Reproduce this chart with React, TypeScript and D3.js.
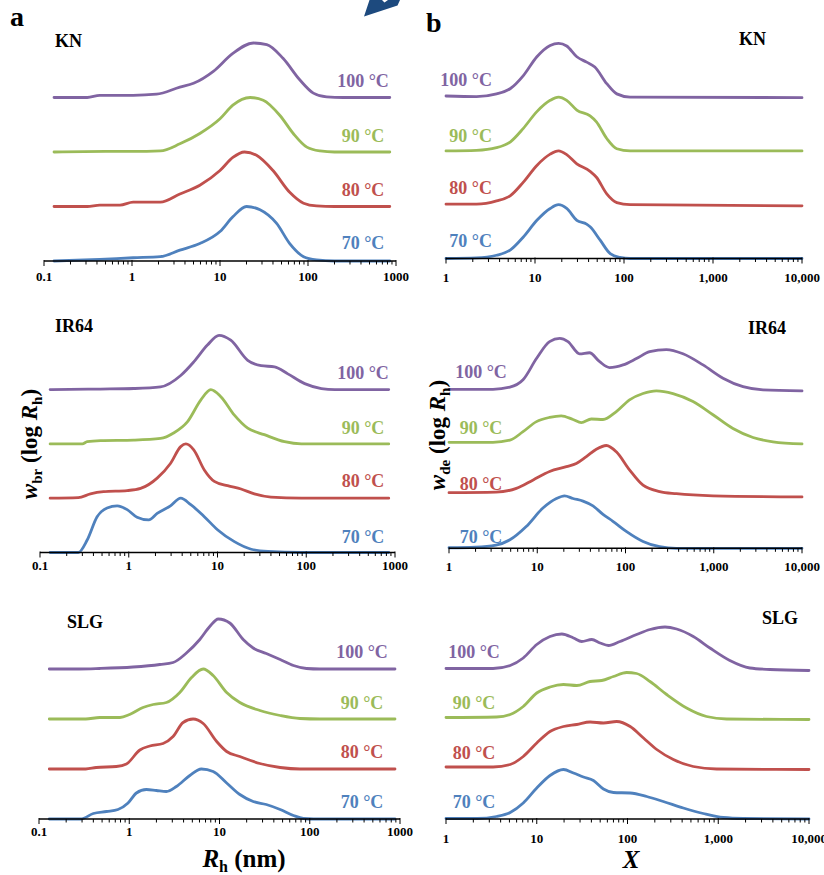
import React, { useEffect, useRef } from 'react';
import * as d3 from 'd3';

type Pt = [number, number];

const temps = ['70 °C', '80 °C', '90 °C', '100 °C'];
const colors = ['#4f81bd', '#c0504d', '#9bbb59', '#8064a2'];
const samples = ['KN', 'IR64', 'SLG'];
const rhTicks = [0.1, 1, 10, 100, 1000];
const xTicks = [1, 10, 100, 1000, 10000];

// (a) w_br(log Rh) against Rh (nm), each curve scaled to its peak
const aKN70: Pt[] = [[0.13, 0], [0.43, 0.03], [1.03, 0.06], [2.1, 0.08], [3.5, 0.2], [5.9, 0.32], [10, 0.54], [14, 0.81], [20, 1.0], [28.5, 0.94], [44, 0.69], [62, 0.32], [89, 0.08], [125, 0.02], [200, 0], [850, 0]];
const aKN80: Pt[] = [[0.13, 0], [0.31, 0], [0.43, 0.025], [0.73, 0.025], [1.03, 0.08], [2.1, 0.08], [3.5, 0.23], [5.9, 0.39], [10, 0.66], [14, 0.9], [19, 1.0], [26, 0.94], [40, 0.66], [62, 0.26], [89, 0.06], [125, 0.01], [200, 0], [850, 0]];
const aKN90: Pt[] = [[0.13, 0], [0.5, 0.01], [1.03, 0.01], [2.1, 0.02], [3.5, 0.15], [5.9, 0.34], [10, 0.61], [14, 0.86], [22, 1.0], [31, 0.95], [48, 0.67], [68, 0.34], [97, 0.09], [137, 0.02], [200, 0], [850, 0]];
const aKN100: Pt[] = [[0.13, 0], [0.31, 0], [0.43, 0.04], [1.03, 0.04], [1.9, 0.06], [3.5, 0.19], [5.0, 0.26], [8.4, 0.48], [14, 0.81], [24, 1.0], [34, 0.97], [52, 0.72], [81, 0.32], [115, 0.08], [163, 0.01], [250, 0], [850, 0]];

const aIR70: Pt[] = [[0.13, 0], [0.27, 0], [0.34, 0.23], [0.44, 0.66], [0.57, 0.82], [0.74, 0.86], [0.96, 0.79], [1.24, 0.65], [1.68, 0.6], [2.09, 0.72], [2.95, 0.86], [3.85, 1.0], [5.0, 0.88], [7.1, 0.66], [10, 0.42], [15.5, 0.2], [24, 0.06], [37, 0.02], [88, 0], [850, 0]];
const aIR80: Pt[] = [[0.13, 0], [0.27, 0.01], [0.37, 0.08], [0.52, 0.12], [0.96, 0.14], [1.36, 0.18], [2.09, 0.37], [2.95, 0.64], [3.85, 0.95], [4.4, 1.0], [5.4, 0.89], [7.1, 0.52], [9.2, 0.31], [13, 0.23], [18.4, 0.17], [26, 0.08], [40, 0.02], [88, 0], [850, 0]];
const aIR90: Pt[] = [[0.13, 0], [0.3, 0], [0.34, 0.04], [0.48, 0.06], [1.14, 0.07], [2.28, 0.1], [3.2, 0.2], [4.6, 0.41], [6.5, 0.81], [8.4, 1.0], [10.9, 0.87], [15.5, 0.53], [21.9, 0.29], [33.7, 0.17], [57, 0.04], [88, 0], [850, 0]];
const aIR100: Pt[] = [[0.13, 0], [0.48, 0.01], [1.14, 0.02], [2.28, 0.05], [3.85, 0.26], [5.4, 0.51], [7.7, 0.82], [10.4, 1.0], [14.1, 0.91], [21.9, 0.54], [31, 0.44], [43.9, 0.42], [62, 0.29], [96, 0.11], [148, 0.02], [210, 0], [850, 0]];

const aSLG70: Pt[] = [[0.13, 0], [0.29, 0], [0.4, 0.11], [0.56, 0.15], [0.75, 0.19], [0.97, 0.32], [1.2, 0.52], [1.55, 0.59], [2.0, 0.57], [2.58, 0.55], [3.33, 0.65], [4.69, 0.87], [6.3, 1.0], [8.5, 0.95], [12, 0.72], [16.8, 0.49], [23.6, 0.35], [33, 0.29], [47, 0.19], [66, 0.07], [85, 0.01], [110, 0], [880, 0]];
const aSLG80: Pt[] = [[0.13, 0], [0.33, 0], [0.43, 0.03], [0.72, 0.05], [0.93, 0.1], [1.31, 0.38], [1.69, 0.46], [2.37, 0.51], [3.06, 0.65], [3.95, 0.93], [5.1, 1.0], [6.6, 0.91], [9.3, 0.55], [12, 0.35], [16.8, 0.25], [28, 0.11], [47, 0.03], [78, 0], [880, 0]];
const aSLG90: Pt[] = [[0.13, 0], [0.33, 0], [0.47, 0.03], [0.79, 0.03], [1.01, 0.09], [1.42, 0.23], [1.84, 0.29], [2.58, 0.33], [3.63, 0.53], [4.9, 0.83], [6.6, 1.0], [8.5, 0.87], [12, 0.53], [16.8, 0.33], [28, 0.17], [47, 0.07], [78, 0.01], [129, 0], [880, 0]];
const aSLG100: Pt[] = [[0.13, 0], [0.28, 0], [0.47, 0.01], [1.1, 0.04], [2.18, 0.09], [3.06, 0.13], [4.3, 0.32], [6.05, 0.59], [7.8, 0.85], [9.7, 1.0], [13, 0.92], [18.3, 0.59], [23.6, 0.42], [33, 0.31], [47, 0.19], [66, 0.07], [92, 0.01], [129, 0], [880, 0]];

// (b) w_de(log Rh) against X
const bKN70: Pt[] = [[1, 0], [2.2, 0.01], [3.7, 0.06], [5.3, 0.16], [7.4, 0.4], [10.5, 0.71], [14.8, 0.93], [18.4, 1.0], [22.7, 0.93], [29.5, 0.71], [38, 0.64], [41.6, 0.59], [54, 0.34], [70, 0.09], [90, 0.02], [117, 0], [10000, 0]];
const bKN80: Pt[] = [[1, 0.01], [2.2, 0.01], [3.7, 0.07], [5.3, 0.17], [7.4, 0.42], [10.5, 0.73], [14.8, 0.94], [18.4, 1.0], [22.7, 0.93], [29.5, 0.76], [41.6, 0.62], [49, 0.51], [64, 0.2], [83, 0.04], [117, 0], [10000, -0.02]];
const bKN90: Pt[] = [[1, 0], [2.2, 0.01], [3.7, 0.06], [5.3, 0.17], [7.4, 0.42], [10.5, 0.73], [14.8, 0.94], [18.4, 1.0], [22.7, 0.94], [29.5, 0.76], [41.6, 0.65], [49, 0.54], [64, 0.23], [83, 0.04], [117, 0], [10000, 0]];
const bKN100: Pt[] = [[1, 0.02], [2.2, 0.01], [3.7, 0.06], [5.3, 0.16], [7.4, 0.4], [10.5, 0.75], [14.8, 0.96], [18.4, 1.0], [22.7, 0.95], [29.5, 0.75], [38, 0.65], [47, 0.56], [64, 0.25], [83, 0.06], [117, 0], [10000, -0.01]];

const bIR70: Pt[] = [[1, 0.01], [2.0, 0.02], [3.4, 0.06], [4.9, 0.16], [7.5, 0.41], [11.6, 0.76], [16.5, 0.94], [20.4, 0.99], [25.4, 0.94], [33, 0.89], [42.8, 0.8], [55.6, 0.64], [72, 0.51], [102, 0.32], [158, 0.13], [244, 0.03], [377, 0], [10000, 0]];
const bIR80: Pt[] = [[1, 0.05], [3.4, 0.06], [5.8, 0.13], [9.0, 0.29], [13.8, 0.45], [21.4, 0.54], [27.7, 0.6], [36, 0.73], [46.7, 0.87], [60.7, 0.94], [78.7, 0.82], [111, 0.48], [158, 0.19], [244, 0.07], [377, 0.03], [980, -0.01], [10000, -0.03]];
const bIR90: Pt[] = [[1, 0], [3.15, 0], [4.9, 0.04], [6.9, 0.2], [9.8, 0.39], [13.8, 0.47], [18.7, 0.5], [25.4, 0.43], [31.6, 0.37], [41, 0.44], [55.6, 0.43], [78.7, 0.58], [111, 0.8], [158, 0.92], [224, 0.97], [345, 0.92], [582, 0.77], [980, 0.52], [1652, 0.26], [2786, 0.09], [4693, 0.01], [10000, -0.03]];
const bIR100: Pt[] = [[1, 0], [3.15, 0], [4.9, 0.04], [6.9, 0.18], [9.8, 0.58], [13.8, 0.9], [18, 0.96], [22.3, 0.9], [30.2, 0.67], [39, 0.69], [51, 0.52], [66, 0.41], [93.7, 0.46], [133, 0.58], [188, 0.71], [290, 0.75], [448, 0.67], [756, 0.46], [1273, 0.21], [2145, 0.05], [3615, -0.01], [10000, -0.03]];

const bSLG70: Pt[] = [[1, 0.01], [2.2, 0.01], [3.6, 0.05], [5.1, 0.13], [7.1, 0.32], [10, 0.62], [14, 0.87], [19.7, 0.99], [25.4, 0.92], [32.7, 0.84], [42.1, 0.77], [54.3, 0.6], [70, 0.53], [107, 0.52], [163, 0.45], [248, 0.35], [412, 0.22], [684, 0.11], [1135, 0.03], [1882, 0.01], [10000, 0]];
const bSLG80: Pt[] = [[1, 0.04], [3.3, 0.04], [5.1, 0.09], [7.1, 0.25], [10, 0.52], [14, 0.75], [19.7, 0.85], [27.6, 0.89], [38.7, 0.94], [54.3, 0.92], [76, 0.95], [107, 0.85], [150, 0.62], [210, 0.39], [320, 0.19], [531, 0.05], [958, 0], [10000, -0.01]];
const bSLG90: Pt[] = [[1, 0.03], [3.6, 0.04], [5.1, 0.09], [7.1, 0.25], [10, 0.52], [14, 0.64], [19.7, 0.69], [27.6, 0.67], [38.7, 0.75], [52, 0.77], [70, 0.85], [98, 0.93], [126, 0.91], [177, 0.75], [270, 0.49], [448, 0.22], [743, 0.05], [1234, 0], [10000, -0.01]];
const bSLG100: Pt[] = [[1, 0.01], [3.3, 0.01], [5.1, 0.07], [7.1, 0.22], [10, 0.49], [14, 0.65], [18.9, 0.7], [25.4, 0.62], [31.3, 0.55], [40.4, 0.59], [49.9, 0.52], [61.6, 0.47], [82.7, 0.55], [126, 0.69], [177, 0.79], [259, 0.84], [348, 0.8], [531, 0.65], [809, 0.42], [1342, 0.17], [2230, 0.02], [3700, -0.01], [10000, -0.03]];

const seriesA = [[aKN70, aKN80, aKN90, aKN100], [aIR70, aIR80, aIR90, aIR100], [aSLG70, aSLG80, aSLG90, aSLG100]];
const seriesB = [[bKN70, bKN80, bKN90, bKN100], [bIR70, bIR80, bIR90, bIR100], [bSLG70, bSLG80, bSLG90, bSLG100]];

// panel geometry in pixels
const layout = [
    { x0: 44, x1: 396, axisY: 261, unit: 54.5, tickDy: 20, labelX: 363, anchor: 'middle', labelDy: [12, 11, 10, 11], nameX: 55, nameY: 47 },
    { x0: 40, x1: 395, axisY: 552.5, unit: 54.3, tickDy: 17.5, labelX: 363, anchor: 'middle', labelDy: [10, 11, 10, 11], nameX: 55, nameY: 332 },
    { x0: 39, x1: 400, axisY: 819, unit: 50, tickDy: 16.5, labelX: 362, anchor: 'middle', labelDy: [11, 11, 10, 11], nameX: 67, nameY: 628 },
    { x0: 446, x1: 802, axisY: 258.5, unit: 53.8, tickDy: 23, labelX: 492, anchor: 'end', labelDy: [12, 11, 9, 11], nameX: 739, nameY: 45 },
    { x0: 449, x1: 802, axisY: 548.3, unit: 53, tickDy: 23, labelX: 481, anchor: 'middle', labelDy: [5, 5, 8, 11], nameX: 748, nameY: 334 },
    { x0: 446, x1: 809, axisY: 819, unit: 50, tickDy: 24, labelX: 474, anchor: 'middle', labelDy: [11, 10, 10, 11], nameX: 762, nameY: 624 },
];

const serif = "'Liberation Serif', 'Times New Roman', serif";

const App = () => {
    const ref = useRef<SVGSVGElement>(null);

    useEffect(() => {
        if (!ref.current) return;
        const svg = d3.select(ref.current);
        svg.selectAll('*').remove();
        const root = svg.append('g').attr('font-family', serif).attr('font-weight', 'bold');

        const all = [...seriesA, ...seriesB];
        all.forEach((group, i) => {
            const L = layout[i];
            const isA = i < 3;
            const ticks = isA ? rhTicks : xTicks;
            const x = d3.scaleLog().domain([ticks[0], ticks[ticks.length - 1]]).range([L.x0, L.x1]);
            const y = d3.scaleLinear().domain([0, 4.2]).range([L.axisY, L.axisY - 4.2 * L.unit]);
            const g = root.append('g');

            group.forEach((pts, k) => {
                const line = d3.line<Pt>()
                    .x(d => x(d[0]))
                    .y(d => y(d[1] + k))
                    .curve(d3.curveMonotoneX);
                g.append('path')
                    .datum(pts)
                    .attr('fill', 'none')
                    .attr('stroke', colors[k])
                    .attr('stroke-width', 2.8)
                    .attr('stroke-linejoin', 'round')
                    .attr('stroke-linecap', 'round')
                    .attr('d', line);

                g.append('text')
                    .attr('x', L.labelX)
                    .attr('y', y(k) - L.labelDy[k])
                    .attr('text-anchor', L.anchor)
                    .attr('font-size', 18)
                    .attr('fill', colors[k])
                    .text(temps[k]);
            });

            // axis
            g.append('line')
                .attr('x1', L.x0).attr('x2', L.x1)
                .attr('y1', L.axisY).attr('y2', L.axisY)
                .attr('stroke', '#000').attr('stroke-width', 1.5);
            const minor: number[] = [];
            for (let e = Math.log10(ticks[0]); e < Math.log10(ticks[ticks.length - 1]); e++) {
                for (let m = 1; m < 10; m++) minor.push(m * Math.pow(10, e));
            }
            minor.push(ticks[ticks.length - 1]);
            minor.forEach(v => {
                const major = ticks.some(t => Math.abs(t - v) < 1e-9);
                g.append('line')
                    .attr('x1', x(v)).attr('x2', x(v))
                    .attr('y1', L.axisY - (major ? 1 : 0)).attr('y2', L.axisY + (major ? 5 : 3.5))
                    .attr('stroke', '#000').attr('stroke-width', 1);
            });
            const fmt = isA ? (v: number) => String(v) : d3.format(',');
            ticks.forEach(t => {
                g.append('text')
                    .attr('x', x(t))
                    .attr('y', L.axisY + L.tickDy)
                    .attr('text-anchor', 'middle')
                    .attr('font-size', 13)
                    .attr('fill', '#000')
                    .text(fmt(t));
            });

            g.append('text')
                .attr('x', L.nameX)
                .attr('y', L.nameY)
                .attr('font-size', 18)
                .attr('fill', '#000')
                .text(samples[i % 3]);
        });

        // panel letters
        root.append('text').attr('x', 10).attr('y', 26).attr('font-size', 28).text('a');
        root.append('text').attr('x', 426).attr('y', 32).attr('font-size', 28).text('b');

        // y titles
        const yTitle = (cx: number, cy: number, sub: string) => {
            const t = root.append('text')
                .attr('transform', `translate(${cx},${cy}) rotate(-90)`)
                .attr('text-anchor', 'middle')
                .attr('font-size', 23);
            t.append('tspan').attr('font-style', 'italic').text('w');
            t.append('tspan').attr('font-size', 15).attr('dy', 5).text(sub);
            t.append('tspan').attr('dy', -5).text(' (log ');
            t.append('tspan').attr('font-style', 'italic').text('R');
            t.append('tspan').attr('font-size', 15).attr('dy', 5).text('h');
            t.append('tspan').attr('dy', -5).text(')');
        };
        yTitle(37, 444, 'br');
        yTitle(445, 435, 'de');

        // x titles
        const xt = root.append('text')
            .attr('x', 244).attr('y', 867)
            .attr('text-anchor', 'middle')
            .attr('font-size', 25);
        xt.append('tspan').attr('font-style', 'italic').text('R');
        xt.append('tspan').attr('font-size', 16).attr('dy', 5).text('h');
        xt.append('tspan').attr('dy', -5).text(' (nm)');

        root.append('text')
            .attr('x', 631).attr('y', 868)
            .attr('text-anchor', 'middle')
            .attr('font-size', 25)
            .attr('font-style', 'italic')
            .text('X');

        // cut-off arrow at top edge
        const arrow: Pt[] = [[364, 16.5], [369.5, 0], [382, 0], [384.5, 2.5], [388, 0], [400, 0], [397.5, 5.5]];
        root.append('path')
            .attr('d', d3.line<Pt>()(arrow) + 'Z')
            .attr('fill', '#1d4a7e');
    }, []);

    return (
        <svg
            ref={ref}
            width={824}
            height={875}
            style={{ position: 'absolute', left: 0, top: 0, background: '#fff' }}
        />
    );
};

export default App;
